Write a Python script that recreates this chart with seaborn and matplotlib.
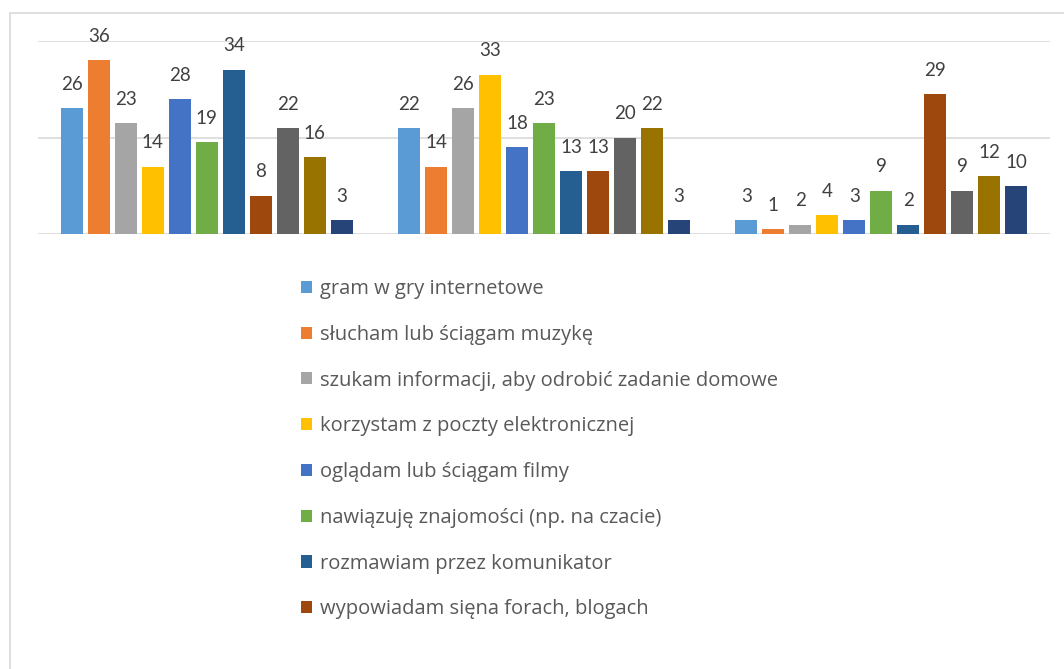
"""Wykres słupkowy: aktywności w internecie"""
import pandas as pd
import seaborn as sns
import matplotlib.pyplot as plt
from matplotlib.lines import Line2D

# grupy (etykiety osi X są ukryte na oryginale)
GROUPS = ['grupa 1', 'grupa 2', 'grupa 3']

# serie - widoczne w legendzie tylko pierwsze 8
SERIES = [
    'gram w gry internetowe',
    'słucham lub ściągam muzykę',
    'szukam informacji, aby odrobić zadanie domowe',
    'korzystam z poczty elektronicznej',
    'oglądam lub ściągam filmy',
    'nawiązuję znajomości (np. na czacie)',
    'rozmawiam przez komunikator',
    'wypowiadam sięna forach, blogach',
    'seria 9',
    'seria 10',
    'seria 11',
]

VALUES_G1 = [26, 36, 23, 14, 28, 19, 34, 8, 22, 16, 3]
VALUES_G2 = [22, 14, 26, 33, 18, 23, 13, 13, 20, 22, 3]
VALUES_G3 = [3, 1, 2, 4, 3, 9, 2, 29, 9, 12, 10]

COLORS = ['#5B9BD5', '#ED7D31', '#A5A5A5', '#FFC000', '#4472C4', '#70AD47',
          '#255E91', '#9E480E', '#636363', '#997300', '#264478']

sns.set_style('white')
plt.rcParams['font.family'] = ['Lato', 'DejaVu Sans']

rows = []
for grp, vals in zip(GROUPS, [VALUES_G1, VALUES_G2, VALUES_G3]):
    for ser, v in zip(SERIES, vals):
        rows.append({'grupa': grp, 'seria': ser, 'wartosc': v})
df = pd.DataFrame(rows)

fig = plt.figure(figsize=(10.64, 6.69), dpi=100)
ax = fig.add_axes([38 / 1064, 1 - 234.3 / 669, 1012 / 1064, 193.6 / 669])

sns.barplot(data=df, x='grupa', y='wartosc', hue='seria', hue_order=SERIES,
            palette=COLORS, saturation=1, width=0.88, gap=0.18, linewidth=0,
            ax=ax, errorbar=None)

for cont in ax.containers:
    ax.bar_label(cont, fmt='%d', padding=11, fontsize=13.5, color='#404040',
                 clip_on=False)

ax.set_ylim(0, 40)
ax.set_xlim(-0.5, 2.5)
ax.set_yticks([0, 20, 40])
ax.yaxis.grid(True, color='#D9D9D9', linewidth=1.2)
ax.set_axisbelow(True)
ax.tick_params(left=False, bottom=False, labelleft=False, labelbottom=False)
ax.set_xlabel('')
ax.set_ylabel('')
for sp in ax.spines.values():
    sp.set_visible(False)

handles, labels = ax.get_legend_handles_labels()
ax.get_legend().remove()
fig.legend(handles[:8], labels[:8], loc='upper left',
           bbox_to_anchor=(301 / 1064, 1 - 279 / 669),
           frameon=False, borderpad=0, borderaxespad=0,
           prop={'family': ['Open Sans', 'DejaVu Sans'], 'size': 14.5},
           handlelength=0.55, handleheight=0.55, handletextpad=0.4,
           labelspacing=1.28, labelcolor='#595959')

# ramka wykresu (widoczna tylko z lewej i u góry)
fig.add_artist(Line2D([10 / 1064, 10 / 1064], [0, 1 - 13 / 669],
                      transform=fig.transFigure, color='#D9D9D9', lw=1.2))
fig.add_artist(Line2D([10 / 1064, 1], [1 - 13 / 669, 1 - 13 / 669],
                      transform=fig.transFigure, color='#D9D9D9', lw=1.2))

fig.savefig('out.png', dpi=100)
